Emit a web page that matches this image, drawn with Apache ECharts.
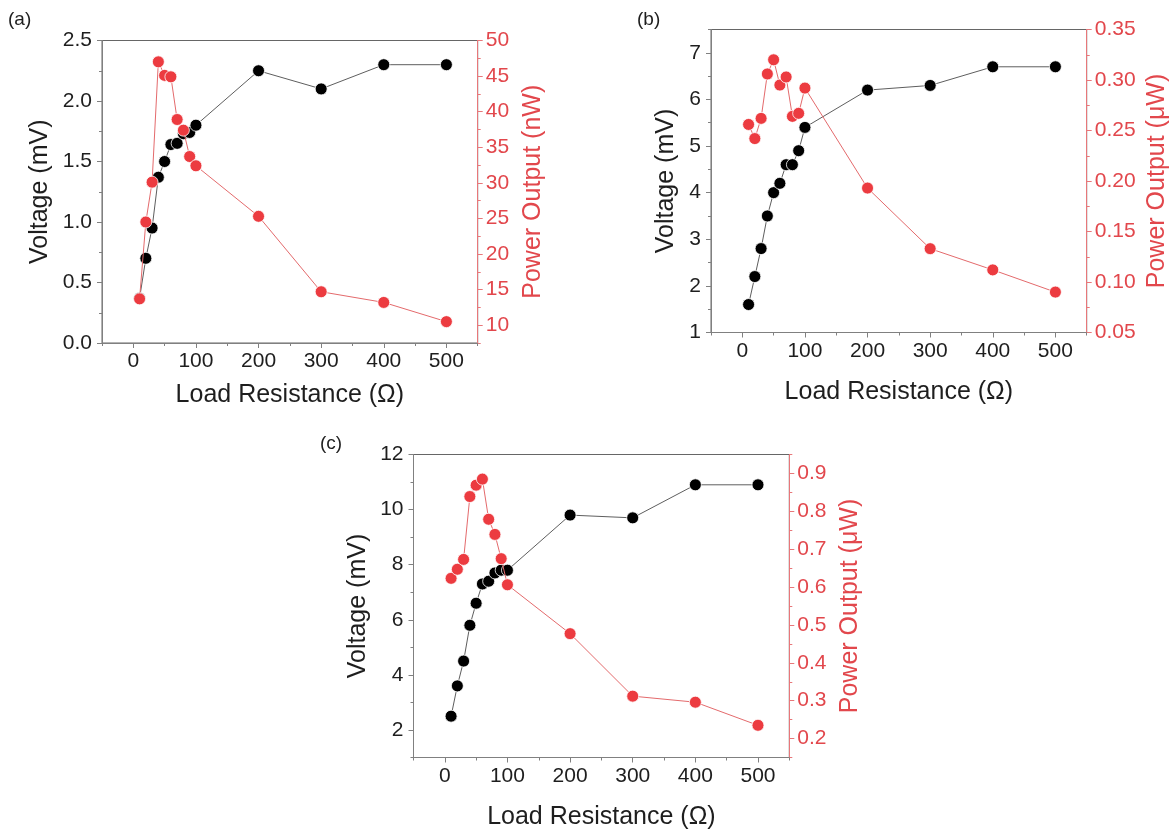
<!DOCTYPE html>
<html><head><meta charset="utf-8">
<script src="https://cdn.jsdelivr.net/npm/echarts@6/dist/echarts.min.js"></script>
<style>html,body{margin:0;padding:0;background:#fff}#c{width:1175px;height:832px}</style>
</head><body><div id="c"></div>
<script>
// ---- data ----
const resistance = [10, 20, 30, 40, 50, 60, 70, 80, 90, 100, 200, 300, 400, 500];
const voltageA = [0.37, 0.70, 0.95, 1.37, 1.50, 1.64, 1.65, 1.73, 1.74, 1.80, 2.25, 2.10, 2.30, 2.30];
const powerA = [13.7, 24.5, 30.1, 47.0, 45.1, 44.9, 38.9, 37.4, 33.7, 32.4, 25.3, 14.7, 13.2, 10.5];
const voltageB = [1.6, 2.2, 2.8, 3.5, 4.0, 4.2, 4.6, 4.6, 4.9, 5.4, 6.2, 6.3, 6.7, 6.7];
const powerB = [0.256, 0.242, 0.262, 0.306, 0.320, 0.295, 0.303, 0.264, 0.267, 0.292, 0.193, 0.133, 0.112, 0.090];
const voltageC = [2.5, 3.6, 4.5, 5.8, 6.6, 7.3, 7.4, 7.7, 7.8, 7.8, 9.8, 9.7, 10.9, 10.9];
const powerC = [0.623, 0.647, 0.673, 0.839, 0.869, 0.885, 0.779, 0.739, 0.675, 0.606, 0.477, 0.312, 0.296, 0.235];

const xTicks = [0, 100, 200, 300, 400, 500];
const xMinor = [-50, 50, 150, 250, 350, 450, 550];
const vTicksA = [0, 0.5, 1.0, 1.5, 2.0, 2.5];
const vMinorA = [0.25, 0.75, 1.25, 1.75, 2.25];
const pTicksA = [10, 15, 20, 25, 30, 35, 40, 45, 50];
const pMinorA = [7.5, 12.5, 17.5, 22.5, 27.5, 32.5, 37.5, 42.5, 47.5];
const vTicksB = [1, 2, 3, 4, 5, 6, 7];
const vMinorB = [1.5, 2.5, 3.5, 4.5, 5.5, 6.5, 7.5];
const pTicksB = [0.05, 0.10, 0.15, 0.20, 0.25, 0.30, 0.35];
const pMinorB = [0.075, 0.125, 0.175, 0.225, 0.275, 0.325];
const vTicksC = [2, 4, 6, 8, 10, 12];
const vMinorC = [1, 3, 5, 7, 9, 11];
const pTicksC = [0.2, 0.3, 0.4, 0.5, 0.6, 0.7, 0.8, 0.9];
const pMinorC = [0.15, 0.25, 0.35, 0.45, 0.55, 0.65, 0.75, 0.85, 0.95];

// ---- chart ----
const FONT = '"Liberation Sans", Arial, sans-serif';
const AX = '#808080', TXT = '#1e1e1e';
const RED = '#ec3b40', REDLINE = '#e46a6c', REDAX = '#e8777a', REDTXT = '#e2474c';
const TICKFS = 21, TITLEFS = 25;
const grids = [], xAxes = [], yAxes = [], series = [];

function panel(p) {
  const gi = grids.length;
  grids.push({left: p.left, right: p.right, top: p.top, bottom: p.bottom, show: true,
    borderColor: '#666', borderWidth: 1, backgroundColor: 'transparent'});
  const xi = xAxes.length;
  xAxes.push({type: 'value', gridIndex: gi, position: 'bottom', min: -50, max: 550,
    name: 'Load Resistance (Ω)', nameLocation: 'middle', nameGap: p.xGap,
    nameTextStyle: {fontFamily: FONT, fontSize: TITLEFS, color: TXT},
    axisLine: {onZero: false, lineStyle: {color: AX}},
    axisTick: {customValues: xTicks, length: 5, lineStyle: {color: AX}},
    axisLabel: {customValues: xTicks, fontFamily: FONT, fontSize: TICKFS, color: TXT, margin: 8},
    splitLine: {show: false}});
  xAxes.push({type: 'value', gridIndex: gi, position: 'bottom', min: -50, max: 550,
    axisLine: {show: false, onZero: false},
    axisTick: {customValues: xMinor, length: 3, lineStyle: {color: AX}},
    axisLabel: {show: false}, splitLine: {show: false}});
  const yi = yAxes.length;
  yAxes.push({type: 'value', gridIndex: gi, position: 'left', min: p.vMin, max: p.vMax,
    name: 'Voltage (mV)', nameLocation: 'middle', nameGap: p.vGap,
    nameTextStyle: {fontFamily: FONT, fontSize: TITLEFS, color: TXT},
    axisLine: {show: true, onZero: false, lineStyle: {color: AX}},
    axisTick: {show: true, customValues: p.vTicks, length: 5, lineStyle: {color: AX}},
    axisLabel: {customValues: p.vTicks, fontFamily: FONT, fontSize: TICKFS, color: TXT, margin: 10,
      formatter: v => v.toFixed(p.vDec)},
    splitLine: {show: false}});
  yAxes.push({type: 'value', gridIndex: gi, position: 'left', min: p.vMin, max: p.vMax,
    axisLine: {show: false, onZero: false},
    axisTick: {show: true, customValues: p.vMinor, length: 3, lineStyle: {color: AX}},
    axisLabel: {show: false}, splitLine: {show: false}});
  yAxes.push({type: 'value', gridIndex: gi, position: 'right', min: p.pMin, max: p.pMax,
    name: p.pName, nameLocation: 'middle', nameGap: p.pGap, nameRotate: 90,
    nameTextStyle: {fontFamily: FONT, fontSize: TITLEFS, color: REDTXT},
    axisLine: {show: true, onZero: false, lineStyle: {color: REDAX}},
    axisTick: {show: true, customValues: p.pTicks, length: 5, lineStyle: {color: REDAX}},
    axisLabel: {customValues: p.pTicks, fontFamily: FONT, fontSize: TICKFS, color: REDTXT, margin: 8,
      formatter: v => v.toFixed(p.pDec)},
    splitLine: {show: false}});
  yAxes.push({type: 'value', gridIndex: gi, position: 'right', min: p.pMin, max: p.pMax,
    axisLine: {show: false, onZero: false},
    axisTick: {show: true, customValues: p.pMinor, length: 3, lineStyle: {color: REDAX}},
    axisLabel: {show: false}, splitLine: {show: false}});
  series.push({type: 'line', xAxisIndex: xi, yAxisIndex: yi,
    data: resistance.map((r, i) => [r, p.v[i]]),
    symbol: 'circle', symbolSize: 12,
    itemStyle: {color: '#000', borderColor: '#fff', borderWidth: 0.8},
    lineStyle: {color: '#5e5e5e', width: 1}, z: 3, animation: false});
  series.push({type: 'line', xAxisIndex: xi, yAxisIndex: yi + 2,
    data: resistance.map((r, i) => [r, p.p[i]]),
    symbol: 'circle', symbolSize: 12,
    itemStyle: {color: RED, borderColor: '#fff', borderWidth: 0.8},
    lineStyle: {color: REDLINE, width: 1}, z: 4, animation: false});
}

panel({left: 102, right: 697.3, top: 40.5, bottom: 489, xGap: 40,
  vMin: 0, vMax: 2.5, vTicks: vTicksA, vMinor: vMinorA, vDec: 1, vGap: 49,
  pMin: 7.5, pMax: 50, pTicks: pTicksA, pMinor: pMinorA, pDec: 0, pGap: 43,
  pName: 'Power Output (nW)', v: voltageA, p: powerA});
panel({left: 711, right: 88.3, top: 29.5, bottom: 499.5, xGap: 47,
  vMin: 1, vMax: 7.5, vTicks: vTicksB, vMinor: vMinorB, vDec: 0, vGap: 32,
  pMin: 0.05, pMax: 0.35, pTicks: pTicksB, pMinor: pMinorB, pDec: 2, pGap: 58,
  pName: 'Power Output (μW)', v: voltageB, p: powerB});
panel({left: 413.5, right: 385.7, top: 454.5, bottom: 74.5, xGap: 47,
  vMin: 1, vMax: 12, vTicks: vTicksC, vMinor: vMinorC, vDec: 0, vGap: 43,
  pMin: 0.15, pMax: 0.95, pTicks: pTicksC, pMinor: pMinorC, pDec: 1, pGap: 48,
  pName: 'Power Output (μW)', v: voltageC, p: powerC});

const chart = echarts.init(document.getElementById('c'), null, {renderer: 'canvas'});
chart.setOption({
  animation: false,
  backgroundColor: '#fff',
  grid: grids, xAxis: xAxes, yAxis: yAxes, series: series,
  graphic: [
    {type: 'text', left: 8, top: 10, style: {text: '(a)', font: '19px ' + FONT, fill: TXT}},
    {type: 'text', left: 637, top: 10, style: {text: '(b)', font: '19px ' + FONT, fill: TXT}},
    {type: 'text', left: 320, top: 434, style: {text: '(c)', font: '19px ' + FONT, fill: TXT}}
  ]
});
</script>
</body></html>
